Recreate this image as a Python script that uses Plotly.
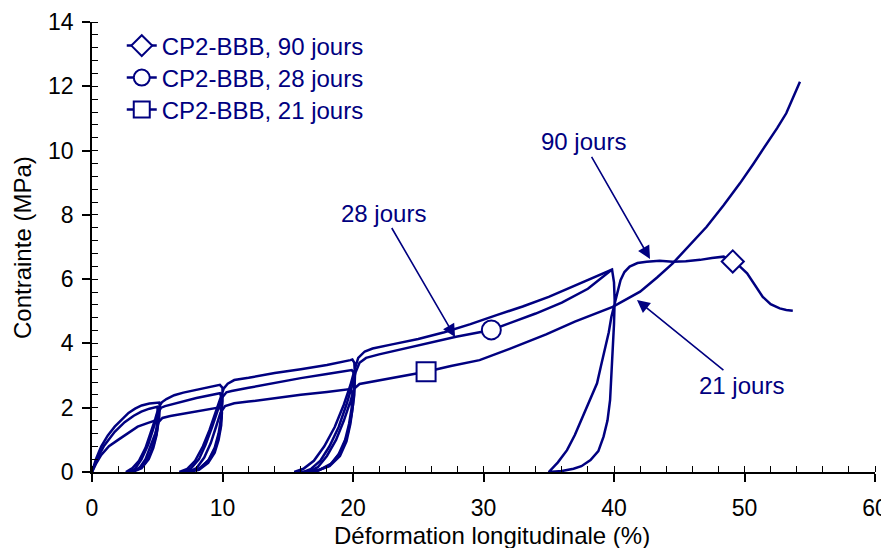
import plotly.graph_objects as go

NAVY = "#000080"
FONT = "Arial, 'Liberation Sans', sans-serif"

# ---- data ----
X_90 = [0, 0.3, 0.7, 1.2, 1.74, 2.3, 2.8, 3.3, 3.8, 4.4, 4.8, 5.15,
        5.2, 5.15, 5.0, 4.75, 4.4, 3.9, 3.3, 2.6,
        3.1, 3.6, 4.1, 4.5, 4.85, 5.1, 5.35, 5.7, 6.3, 7.0, 8.0, 9.0, 9.8,
        10.0, 10.0, 9.9, 9.7, 9.4, 8.9, 8.2, 7.4, 6.7,
        7.3, 7.9, 8.5, 9.0, 9.45, 9.8, 10.1, 10.4, 10.9, 12.0, 14.0, 16.0, 18.0, 19.8,
        19.95, 20.1, 20.15, 20.1, 19.9, 19.6, 19.1, 18.4, 17.4, 16.3, 15.5,
        16.2, 17.0, 17.8, 18.6, 19.3, 19.8, 20.1, 20.4, 20.9, 21.5, 23.0, 25.0, 27.0, 29.0,
        31.0, 33.0, 35.0, 37.0, 38.5, 39.85,
        40.0, 40.05, 40.0, 39.9, 39.8, 39.7, 39.5, 39.2, 38.8, 38.2, 37.5, 36.9, 36.0, 35.0,
        35.7, 36.4, 37.0, 37.6, 38.2, 38.7, 39.0, 39.3, 39.6, 39.8, 40.1, 40.5, 40.8, 41.2,
        41.8, 42.5, 43.5, 44.5, 45.5, 46.6, 47.5, 48.4, 49.1, 49.5, 50.2, 50.8, 51.4, 52.0,
        52.7, 53.2, 53.7]
Y_90 = [0, 0.4, 0.79, 1.13, 1.41, 1.65, 1.84, 1.97, 2.07, 2.13, 2.15, 2.16,
        2.05, 1.7, 1.3, 0.9, 0.5, 0.2, 0.05, 0,
        0.12, 0.35, 0.75, 1.2, 1.65, 2.0, 2.17, 2.27, 2.39, 2.47, 2.56, 2.64, 2.71,
        2.62, 2.2, 1.7, 1.2, 0.75, 0.35, 0.1, 0.02, 0,
        0.1, 0.35, 0.8, 1.3, 1.85, 2.3, 2.6, 2.75, 2.86, 2.93, 3.08, 3.2, 3.33, 3.48,
        3.5, 3.4, 3.0, 2.4, 1.8, 1.2, 0.65, 0.28, 0.06, 0.01, 0,
        0.1, 0.35, 0.8, 1.4, 2.1, 2.7, 3.15, 3.55, 3.75, 3.84, 3.97, 4.14, 4.35, 4.6,
        4.88, 5.15, 5.45, 5.8, 6.05, 6.3,
        5.9, 5.35, 4.6, 3.8, 3.0, 2.24, 1.6, 1.1, 0.65, 0.37, 0.18, 0.1, 0.03, 0,
        0.3, 0.68, 1.15, 1.72, 2.25, 2.76, 3.3, 3.8, 4.35, 4.83, 5.35, 5.97, 6.22, 6.39,
        6.5, 6.54, 6.57, 6.54, 6.56, 6.6, 6.66, 6.7, 6.55, 6.45, 6.18, 5.8, 5.45, 5.22,
        5.09, 5.04, 5.02]

X_28 = [0, 0.4, 0.9, 1.74, 2.5, 3.2, 3.78, 4.4, 5.0,
        5.05, 5.0, 4.85, 4.55, 4.1, 3.5, 2.8,
        3.3, 3.8, 4.3, 4.7, 5.0, 5.3, 5.6, 6.6, 8.0, 9.8,
        9.95, 9.95, 9.8, 9.5, 9.0, 8.3, 7.5, 7.0,
        7.6, 8.2, 8.7, 9.2, 9.6, 9.95, 10.3, 10.7, 12.0, 14.0, 16.0, 18.0, 19.9,
        20.05, 20.1, 20.0, 19.8, 19.5, 19.0, 18.2, 17.2, 16.2,
        16.8, 17.5, 18.2, 18.9, 19.5, 19.9, 20.2, 20.5, 21.0, 22.0, 24.6, 27.9, 30.6,
        32.0, 34.0, 36.0, 38.0, 39.85]
Y_28 = [0, 0.42, 0.8, 1.25, 1.55, 1.75, 1.88, 1.97, 2.03,
        1.9, 1.5, 1.1, 0.65, 0.3, 0.08, 0,
        0.1, 0.4, 0.85, 1.35, 1.8, 2.0, 2.05, 2.15, 2.3, 2.45,
        2.3, 1.8, 1.3, 0.8, 0.4, 0.12, 0.02, 0,
        0.12, 0.4, 0.85, 1.4, 1.9, 2.3, 2.48, 2.52, 2.62, 2.78, 2.92, 3.05, 3.17,
        3.1, 2.7, 2.1, 1.5, 0.95, 0.5, 0.18, 0.04, 0,
        0.1, 0.35, 0.8, 1.4, 2.1, 2.65, 3.1, 3.4, 3.55, 3.66, 3.9, 4.21, 4.42,
        4.62, 4.93, 5.27, 5.7, 6.3]

X_21 = [0, 0.3, 0.71, 1.3, 2.0, 2.7, 3.5, 4.3, 5.0,
        5.05, 4.95, 4.7, 4.35, 3.8, 3.1,
        3.6, 4.1, 4.5, 4.85, 5.1, 5.4, 6.0, 7.36, 8.5, 9.8,
        9.95, 9.9, 9.7, 9.4, 8.9, 8.2, 7.4,
        8.0, 8.6, 9.1, 9.5, 9.85, 10.2, 10.9, 12.0, 14.0, 16.0, 18.0, 19.8,
        19.95, 19.9, 19.7, 19.4, 18.9, 18.2, 17.3, 16.6,
        17.3, 18.0, 18.7, 19.3, 19.8, 20.1, 20.5, 21.05, 23.0, 25.6, 27.5, 29.7, 32.0,
        34.8, 37.0, 39.9, 42.0, 43.3, 44.5, 45.8, 47.1, 48.4, 49.65, 50.7, 51.7, 52.5,
        53.2, 53.8, 54.25]
Y_21 = [0, 0.25, 0.53, 0.8, 1.0, 1.2, 1.41, 1.53, 1.62,
        1.5, 1.15, 0.75, 0.4, 0.12, 0,
        0.1, 0.4, 0.8, 1.2, 1.55, 1.68, 1.74, 1.83, 1.92, 2.01,
        1.85, 1.45, 1.0, 0.6, 0.28, 0.07, 0,
        0.12, 0.45, 0.9, 1.4, 1.85, 2.05, 2.14, 2.19, 2.3, 2.4, 2.49, 2.58,
        2.45, 2.0, 1.5, 1.0, 0.55, 0.2, 0.04, 0,
        0.15, 0.5, 1.0, 1.6, 2.2, 2.6, 2.74, 2.78, 2.94, 3.12, 3.3, 3.48, 3.83,
        4.28, 4.68, 5.14, 5.61, 6.05, 6.49, 7.05, 7.63, 8.3, 8.98, 9.6, 10.2, 10.7,
        11.16, 11.7, 12.14]

SERIES_NAMES = ["CP2-BBB, 90 jours", "CP2-BBB, 28 jours", "CP2-BBB, 21 jours"]
MARK_X = [49.1, 30.6, 25.6]
MARK_Y = [6.55, 4.42, 3.12]
MARK_SYMBOLS = ["diamond", "circle", "square"]

ANNOT_TEXT = ["90 jours", "28 jours", "21 jours"]
ANNOT_X = [42.76, 27.82, 41.76]
ANNOT_Y = [6.63, 4.2, 5.35]

X_TICKS = [0, 10, 20, 30, 40, 50, 60]
Y_TICKS = [0, 2, 4, 6, 8, 10, 12, 14]

for a, b in [(X_90, Y_90), (X_28, Y_28), (X_21, Y_21)]:
    assert len(a) == len(b), (len(a), len(b))

fig = go.Figure()
series = [(X_90, Y_90), (X_28, Y_28), (X_21, Y_21)]
for (xs, ys) in series:
    fig.add_trace(go.Scatter(x=xs, y=ys, mode="lines", showlegend=False,
                             line=dict(color=NAVY, width=2.5), hoverinfo="skip"))

marker_sizes = [17, 19, 19]
legend_ids = ["legend", "legend2", "legend3"]
for i in range(3):
    fig.add_trace(go.Scatter(
        x=[MARK_X[i]], y=[MARK_Y[i]], mode="lines+markers", name=SERIES_NAMES[i],
        legend=legend_ids[i],
        line=dict(color=NAVY, width=2.5),
        marker=dict(symbol=MARK_SYMBOLS[i], size=marker_sizes[i], color="white",
                    line=dict(color=NAVY, width=2))))

# annotation offsets (pixels)
offs = [(-67, -117), (-72, -124), (105, 85)]
for i in range(3):
    fig.add_annotation(x=ANNOT_X[i], y=ANNOT_Y[i], text=ANNOT_TEXT[i],
                       showarrow=True, arrowhead=2, arrowsize=1.6, arrowwidth=1.6,
                       arrowcolor=NAVY, ax=offs[i][0], ay=offs[i][1],
                       font=dict(family=FONT, size=24, color=NAVY))

fig.add_annotation(xref="paper", yref="paper", x=(492 - 92) / 783, y=(472 - 535) / 450,
                   text="Déformation longitudinale (%)", showarrow=False,
                   xanchor="center", yanchor="middle",
                   font=dict(family=FONT, size=24, color="black"))
fig.add_annotation(xref="paper", yref="paper", x=(22 - 92) / 783, y=(472 - 248) / 450,
                   text="Contrainte (MPa)", showarrow=False, textangle=-90,
                   xanchor="center", yanchor="middle",
                   font=dict(family=FONT, size=24, color="black"))

axis_common = dict(showgrid=False, zeroline=False, showline=True, linecolor="black",
                   linewidth=1.5, ticks="outside", ticklen=8, tickwidth=1.5,
                   tickcolor="black", automargin=False,
                   tickfont=dict(family=FONT, size=23, color="black"))

legend_common = dict(x=0.038, xanchor="left", yanchor="top", bgcolor="rgba(0,0,0,0)",
                     font=dict(family=FONT, size=24, color=NAVY), itemsizing="trace")

# the page body has an 8px margin: figure is 881x540 so the plot lands at the reference spot
fig.update_layout(
    width=881, height=540,
    margin=dict(l=84, r=14, t=14, b=76, autoexpand=False),
    paper_bgcolor="white", plot_bgcolor="white",
    xaxis=dict(range=[0, 60], tickmode="array", tickvals=X_TICKS, ticklabelstandoff=7,
               minor=dict(dtick=2, ticks="inside", ticklen=6, tickwidth=1.2, tickcolor="black"),
               **axis_common),
    yaxis=dict(range=[0, 14], tickmode="array", tickvals=Y_TICKS, ticklabelstandoff=4,
               minor=dict(dtick=0.4, ticks="inside", ticklen=6, tickwidth=1.2, tickcolor="black"),
               **axis_common),
    xaxis2=dict(range=[0, 60], overlaying="x", anchor="y", tickmode="array", tickvals=X_TICKS,
                ticks="inside", ticklen=8, tickwidth=1.5, tickcolor="black", automargin=False,
                showticklabels=False, showline=False, showgrid=False, zeroline=False),
    yaxis2=dict(range=[0, 14], overlaying="y", anchor="x", tickmode="array", tickvals=Y_TICKS,
                ticks="inside", ticklen=8, tickwidth=1.5, tickcolor="black", automargin=False,
                showticklabels=False, showline=False, showgrid=False, zeroline=False),
    legend=dict(y=0.9967, **legend_common),
    legend2=dict(y=0.9256, **legend_common),
    legend3=dict(y=0.8544, **legend_common),
    showlegend=True,
)

fig.write_html("out.html")
